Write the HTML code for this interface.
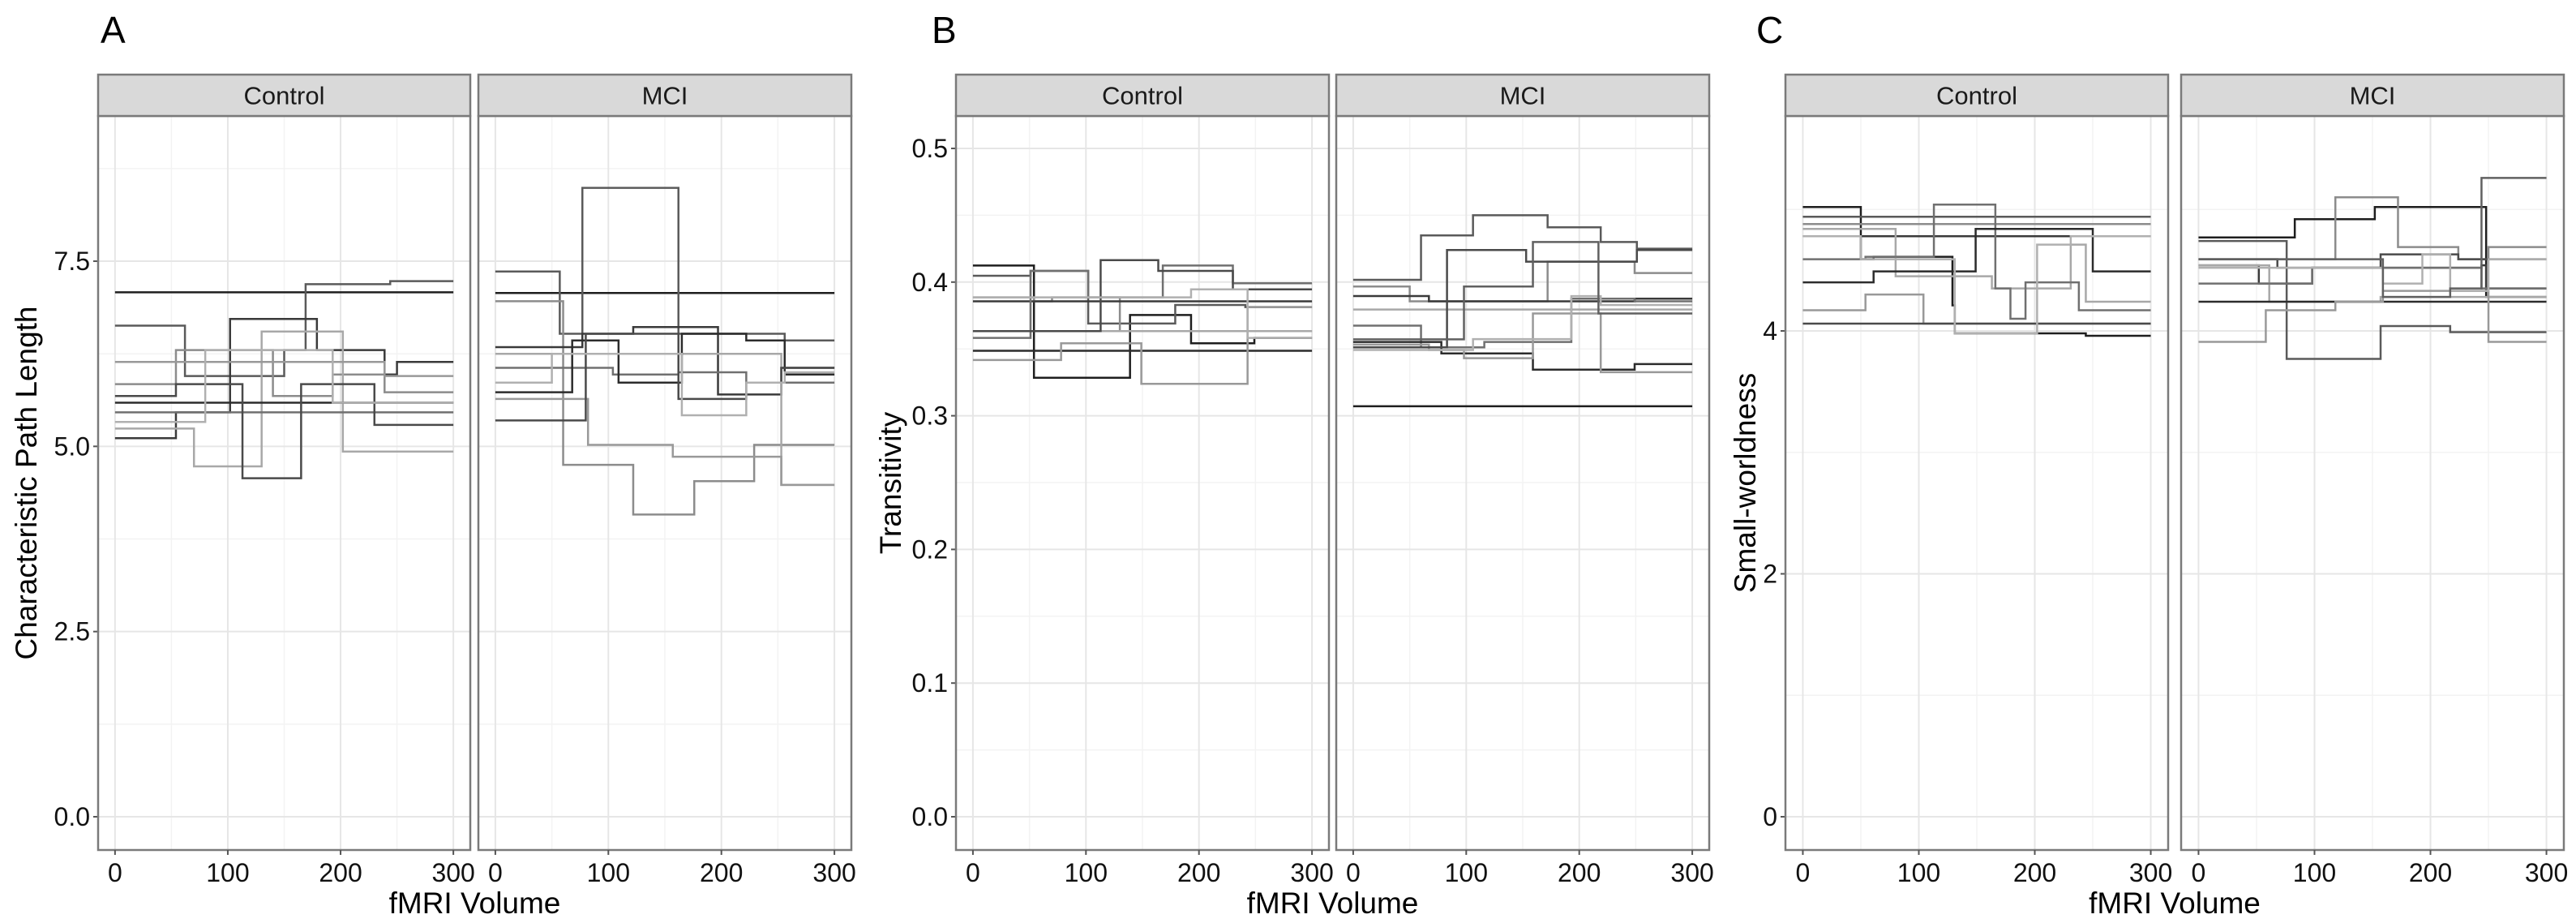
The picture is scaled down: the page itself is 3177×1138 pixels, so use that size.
<!DOCTYPE html>
<html><head><meta charset="utf-8"><style>
html,body{margin:0;padding:0;background:#fff;}
svg{display:block;font-family:"Liberation Sans",Arial,sans-serif;}
</style></head><body>
<svg id="fig" width="3177" height="1138" viewBox="0 0 3177 1138" xmlns="http://www.w3.org/2000/svg"></svg>
<script>
// ---- x axis ticks ----
const xTicks = [0, 100, 200, 300];
const xMinor = [50, 150, 250];
const facetNames = ["Control", "MCI"];

// ---- Panel A: Characteristic Path Length (each series: [volume, value] step starts) ----
const aTicks = [0, 2.5, 5, 7.5];
const aTickLabels = ["0.0", "2.5", "5.0", "7.5"];
const aMinor = [1.25, 3.75, 6.25, 8.75];
const aControl = [
  [[0,7.08]],
  [[0,6.63],[62,5.95],[150,6.30],[169,7.19],[244,7.23]],
  [[0,5.84],[54,6.30],[140,5.68],[193,5.97],[239,5.73]],
  [[0,5.11],[54,5.46],[102,6.72],[179,6.30],[239,5.97],[250,6.14]],
  [[0,5.24],[70,4.73],[130,6.55],[202,4.93]],
  [[0,5.46]],
  [[0,5.59]],
  [[0,6.14],[239,5.95]],
  [[0,5.68],[54,5.84],[113,4.57],[165,5.84],[230,5.29]],
  [[0,5.33],[80,6.30],[139,6.30],[193,5.59]]
];
const aMCI = [
  [[0,7.07]],
  [[0,7.36],[57,6.52],[77,8.49],[162,6.52],[256,6.43]],
  [[0,6.96],[60,4.75],[122,4.08],[176,4.53],[229,5.02]],
  [[0,6.34],[77,6.52],[122,6.61],[197,5.70],[253,6.06]],
  [[0,6.25],[253,4.48]],
  [[0,6.06],[104,5.97],[162,6.00],[222,5.86]],
  [[0,5.73],[68,6.43],[109,5.86],[165,6.52],[222,6.43],[256,5.97]],
  [[0,5.64],[82,5.02],[157,4.86],[253,4.48]],
  [[0,5.35],[80,6.52],[162,5.64],[222,5.86],[253,6.06]],
  [[0,5.86],[50,6.25],[165,5.42],[222,5.86],[256,6.00]]
];

// ---- Panel B: Transitivity ----
const bTicks = [0, 0.1, 0.2, 0.3, 0.4, 0.5];
const bTickLabels = ["0.0", "0.1", "0.2", "0.3", "0.4", "0.5"];
const bMinor = [0.05, 0.15, 0.25, 0.35, 0.45];
const bControl = [
  [[0,0.4124],[54,0.3284],[139,0.3754],[193,0.3542],[249,0.3582]],
  [[0,0.4047],[51,0.4084],[102,0.3690],[179,0.3829],[241,0.3813]],
  [[0,0.3886],[54,0.3856],[70,0.3886],[130,0.3633]],
  [[0,0.3856]],
  [[0,0.3633]],
  [[0,0.3582],[51,0.4084],[102,0.3886],[168,0.4124],[230,0.3991]],
  [[0,0.3486]],
  [[0,0.3417],[78,0.3542],[149,0.3239],[243,0.3813]],
  [[0,0.3633],[113,0.4164],[164,0.4084],[230,0.3946]],
  [[0,0.3886],[193,0.3946],[243,0.3582]]
];
const bMCI = [
  [[0,0.3071]],
  [[0,0.4017],[60,0.4349],[106,0.4500],[172,0.4410],[219,0.4300],[251,0.4250]],
  [[0,0.3967],[50,0.3856],[153,0.3856],[172,0.4153],[249,0.4068]],
  [[0,0.3896],[67,0.3856],[219,0.3856],[249,0.3876]],
  [[0,0.3795]],
  [[0,0.3674],[60,0.3512],[116,0.3552],[193,0.3876],[249,0.3856]],
  [[0,0.3552],[78,0.3466],[159,0.3345],[249,0.3387]],
  [[0,0.3532],[67,0.3492],[98,0.3431],[159,0.3765],[219,0.3326]],
  [[0,0.3512],[83,0.4240],[153,0.4153],[251,0.4240]],
  [[0,0.3492],[106,0.3573],[193,0.3895],[219,0.3829]],
  [[0,0.3572],[98,0.3967],[153,0.3967],[159,0.4300],[217,0.3765]]
];

// ---- Panel C: Small-worldness ----
const cTicks = [0, 2, 4];
const cTickLabels = ["0", "2", "4"];
const cMinor = [1, 3, 5];
const cControl = [
  [[0,5.02],[50,4.59],[61,4.61],[129,4.21],[131,3.98],[244,3.96]],
  [[0,4.94]],
  [[0,4.88]],
  [[0,4.78]],
  [[0,4.84],[54,4.84],[80,4.45],[149,4.45],[163,4.35],[231,4.71],[244,4.24]],
  [[0,4.59],[54,4.61],[113,5.04],[166,4.35],[179,4.10],[192,4.40],[238,4.17]],
  [[0,4.40],[61,4.49],[149,4.84],[244,4.84],[250,4.49]],
  [[0,4.17],[54,4.30],[104,4.06]],
  [[0,4.06]],
  [[0,4.78],[50,4.59],[104,4.59],[131,3.98],[202,4.71],[231,4.78]]
];
const cMCI = [
  [[0,4.77],[83,4.92],[152,5.02],[248,4.28]],
  [[0,4.74],[76,3.77],[157,4.04],[217,3.99]],
  [[0,4.59],[118,5.10],[172,4.69],[224,4.59],[250,4.69]],
  [[0,4.54],[52,4.39],[98,4.52],[244,4.54],[248,4.35]],
  [[0,4.54],[61,4.24],[157,4.28]],
  [[0,4.39],[98,4.52],[244,4.35]],
  [[0,4.24]],
  [[0,3.91],[58,4.17],[118,4.24],[159,4.33],[250,3.91]],
  [[0,4.59],[68,4.52],[157,4.63],[224,4.59]],
  [[0,4.52],[61,4.52],[159,4.39],[193,4.63],[217,4.33],[250,4.59]],
  [[0,4.59],[159,4.28],[217,4.35],[244,5.26]]
];

const NS = "http://www.w3.org/2000/svg";
const svg = document.getElementById("fig");
const PT = 143, PB = 1048, ZERO_Y = 1007, STRIP_T = 92;
const greys = ["#1e1e1e","#5a5a5a","#8c8c8c","#3a3a3a","#a8a8a8","#707070","#2c2c2c","#999999","#4a4a4a","#b0b0b0","#606060"];

function mk(tag, attrs, parent) {
  const e = document.createElementNS(NS, tag);
  for (const k in attrs) e.setAttribute(k, attrs[k]);
  (parent || svg).appendChild(e);
  return e;
}

const charts = [
  {letter:"A", lx:124, title:"Characteristic Path Length", tx:32, perUnit:91.33,
   ticks:aTicks, labels:aTickLabels, minor:aMinor, data:[aControl, aMCI],
   panels:[[121,459],[590,460]]},
  {letter:"B", lx:1149, title:"Transitivity", tx:1098, perUnit:1648,
   ticks:bTicks, labels:bTickLabels, minor:bMinor, data:[bControl, bMCI],
   panels:[[1179,460],[1648,460]]},
  {letter:"C", lx:2166, title:"Small-worldness", tx:2152, perUnit:149.75,
   ticks:cTicks, labels:cTickLabels, minor:cMinor, data:[cControl, cMCI],
   panels:[[2202,472],[2690,472]]}
];

charts.forEach(ch => {
  const g = mk("g", {});
  
  
  const yS = v => ZERO_Y - v * ch.perUnit;

  const L = mk("text", {x: ch.lx, y: 53, "font-size": 46, fill: "#000"}, g);
  L.textContent = ch.letter;
  
  

  const yt = mk("text", {x: ch.tx, y: (PT+PB)/2, "font-size": 37, fill: "#000", "text-anchor": "middle",
    transform: `rotate(-90 ${ch.tx} ${(PT+PB)/2})`, dy: "0.35em"}, g);
  yt.textContent = ch.title;
  
  

  const left0 = ch.panels[0][0], right1 = ch.panels[1][0] + ch.panels[1][1];
  const xt = mk("text", {x: (left0+right1)/2, y: 1126, "font-size": 37, fill: "#000", "text-anchor": "middle"}, g);
  xt.textContent = "fMRI Volume";
  
  

  ch.ticks.forEach((t, i) => {
    const lb = mk("text", {x: left0 - 10, y: yS(t) + 11, "font-size": 32, fill: "#111", "text-anchor": "end"}, g);
    lb.textContent = ch.labels[i];
    
    
    mk("line", {x1: left0 - 6, x2: left0, y1: yS(t), y2: yS(t), stroke: "#555", "stroke-width": 2}, g);
  });

  ch.panels.forEach((p, pi) => {
    const [px, pw] = p;
    const unit = pw / 330;
    const xS = v => px + (v + 15) * unit;
    const pg = mk("g", {}, g);
    
    

    ch.minor.forEach(m => { const y = yS(m); if (y > PT) mk("line", {x1: px, x2: px+pw, y1: y, y2: y, stroke: "#f3f3f3", "stroke-width": 1.5}, pg); });
    xMinor.forEach(m => mk("line", {x1: xS(m), x2: xS(m), y1: PT, y2: PB, stroke: "#f3f3f3", "stroke-width": 1.5}, pg));
    ch.ticks.forEach(t => mk("line", {x1: px, x2: px+pw, y1: yS(t), y2: yS(t), stroke: "#e6e6e6", "stroke-width": 2}, pg));
    xTicks.forEach(t => mk("line", {x1: xS(t), x2: xS(t), y1: PT, y2: PB, stroke: "#e6e6e6", "stroke-width": 2}, pg));

    ch.data[pi].forEach((s, si) => {
      let d = "";
      for (let k = 0; k < s.length; k++) {
        const x0 = xS(s[k][0]);
        const x1 = xS(k + 1 < s.length ? s[k+1][0] : 300);
        const y = yS(s[k][1]);
        d += (k === 0 ? `M${x0},${y}` : `V${y}`) + `H${x1}`;
      }
      const path = mk("path", {d: d, fill: "none", stroke: greys[si % greys.length], "stroke-width": 2.5}, pg);
      
      
    });

    mk("rect", {x: px, y: PT, width: pw, height: PB-PT, fill: "none", stroke: "#7a7a7a", "stroke-width": 2.5}, pg);
    const st = mk("rect", {x: px, y: STRIP_T, width: pw, height: PT-STRIP_T, fill: "#d9d9d9", stroke: "#7a7a7a", "stroke-width": 2.5}, pg);
    
    
    const stt = mk("text", {x: px + pw/2, y: (STRIP_T+PT)/2 + 11, "font-size": 31, fill: "#1a1a1a", "text-anchor": "middle"}, pg);
    stt.textContent = facetNames[pi];
    
    

    xTicks.forEach(t => {
      mk("line", {x1: xS(t), x2: xS(t), y1: PB, y2: PB+6, stroke: "#555", "stroke-width": 2}, pg);
      const xl = mk("text", {x: xS(t), y: 1087, "font-size": 32, fill: "#111", "text-anchor": "middle"}, pg);
      xl.textContent = String(t);
      
      
    });
  });
});
</script>
</body></html>
